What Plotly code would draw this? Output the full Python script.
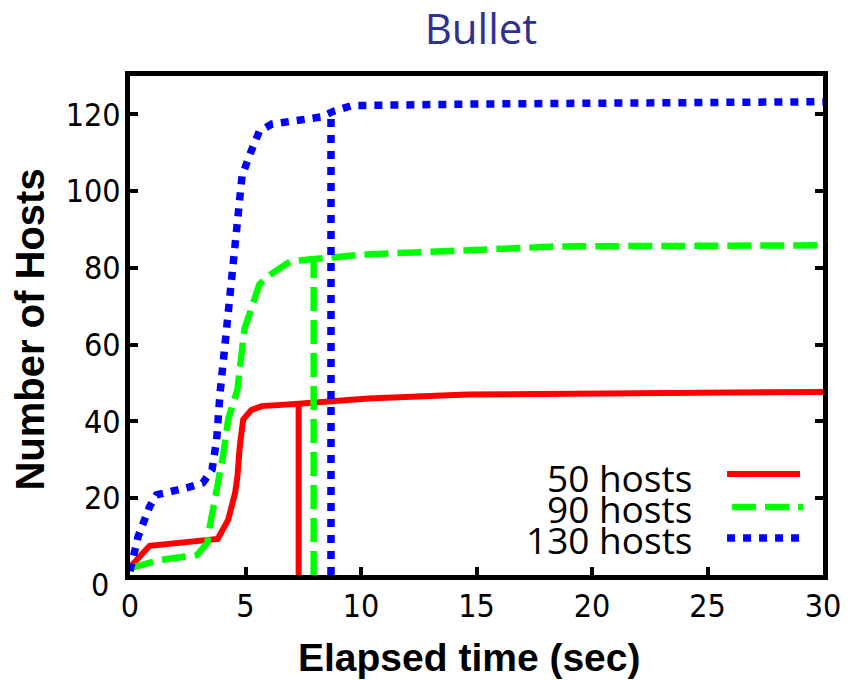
import plotly.graph_objects as go

# Cumulative number of hosts that completed, per elapsed time (sec)
t50 = [0, 0.85, 3.8, 4.25, 4.55, 4.65, 4.75, 4.9, 5.25, 5.7, 7.3, 10.3, 14.6, 20, 30]
h50 = [2, 7.6, 9.4, 14.4, 21.4, 25.6, 33.4, 40.5, 43, 44, 44.6, 46.0, 47.0, 47.2, 47.7]

t90 = [0, 1.3, 2.9, 3.35, 3.45, 3.75, 4.05, 4.25, 4.65, 4.95, 5.6, 5.95, 6.95, 7.75, 10.1, 14.6, 18.5, 30]
h90 = [1.8, 3.9, 5.2, 8.4, 12.5, 22, 31.8, 40.5, 48.3, 64, 75.7, 77.8, 81.7, 82.2, 83.5, 84.6, 85.6, 85.9]

t130 = [0, 0.35, 0.85, 1.15, 2.45, 3.15, 3.55, 3.75, 3.9, 4.45, 4.65, 4.85, 5.15, 5.6, 6.15, 8.25, 8.85, 9.6, 15, 30]
h130 = [1, 10, 17.8, 20.9, 22.7, 24, 27.4, 35.2, 47.5, 80, 92.7, 103.9, 109, 115.6, 117.5, 119.3, 120.9, 122.3, 122.7, 123.3]

# Marker lines: time at which each run is flagged, and the curve level there
mark_t = [7.3, 7.95, 8.7]
mark_h = [44.6, 82.3, 120.0]

series = ["50 hosts", "90 hosts", "130 hosts"]
colors = ["#ff0000", "#00ff00", "#0000ff"]
widths = [6, 6.5, 7.5]
dashes = ["solid", "24px,9px", "8px,8px"]

x_ticks = [0, 5, 10, 15, 20, 25, 30]
y_ticks = [0, 20, 40, 60, 80, 100, 120]

curves = [(t50, h50), (t90, h90), (t130, h130)]

fig = go.Figure()
for i, (tx, hy) in enumerate(curves):
    fig.add_trace(go.Scatter(
        x=tx, y=hy, mode="lines", name=series[i], showlegend=False,
        line=dict(color=colors[i], width=widths[i], dash=dashes[i]),
    ))
    fig.add_trace(go.Scatter(
        x=[mark_t[i], mark_t[i]], y=[0, mark_h[i]], mode="lines", showlegend=False,
        line=dict(color=colors[i], width=widths[i], dash=dashes[i]),
        hoverinfo="skip",
    ))

# Plot-area geometry in pixels, used to place the key and titles
L, T, W, H = 129.5, 76, 693.5, 499
def px(x):
    return (x - L) / W
def py(y):
    return (T + H - y) / H

tick_font = dict(family="DejaVu Sans Condensed, DejaVu Sans, sans-serif", size=32, color="#000000")

# Key: label on the left, line sample on the right
key_rows = [(477, 474, 727, 800), (508, 507, 732, 803), (539, 538, 727, 800)]
annotations = []
shapes = []
for i, (ty, ly, x0, x1) in enumerate(key_rows):
    annotations.append(dict(
        text=series[i], xref="paper", yref="paper", x=px(694), y=py(ty),
        xanchor="right", yanchor="middle", showarrow=False,
        font=dict(family="Open Sans, Liberation Sans, sans-serif", size=37, color="#000000"),
    ))
    shapes.append(dict(
        type="line", xref="paper", yref="paper",
        x0=px(x0), x1=px(x1), y0=py(ly), y1=py(ly),
        line=dict(color=colors[i], width=widths[i], dash=dashes[i]),
    ))

# The y-axis "0" label sits a little below its tick
annotations.append(dict(
    text=str(y_ticks[0]), xref="paper", yref="paper", x=px(110), y=py(585),
    xanchor="right", yanchor="middle", showarrow=False, font=tick_font,
))

annotations.append(dict(
    text="<b>Elapsed time (sec)</b>", xref="paper", yref="paper",
    x=px(469), y=py(657), xanchor="center", yanchor="middle", showarrow=False,
    font=dict(family="Liberation Sans, Arial, sans-serif", size=39, color="#000000"),
))
annotations.append(dict(
    text="<b>Number of Hosts</b>", xref="paper", yref="paper",
    x=px(29), y=py(330), xanchor="center", yanchor="middle", showarrow=False,
    textangle=-90,
    font=dict(family="Liberation Sans, Arial, sans-serif", size=40, color="#000000"),
))

axis_common = dict(
    showgrid=False, zeroline=False, showline=True, linecolor="#000000", linewidth=5,
    ticks="inside", ticklen=8, tickwidth=4, tickcolor="#000000",
    tickfont=tick_font,
)

fig.update_layout(
    width=854, height=680,
    margin=dict(l=129.5, r=854 - 823, t=76, b=680 - 575),
    plot_bgcolor="#ffffff", paper_bgcolor="#ffffff",
    title=dict(
        text="Bullet", x=481 / 854, xref="container", xanchor="center",
        y=1 - 29 / 680, yref="container", yanchor="middle",
        font=dict(family="Open Sans, sans-serif", size=42, color="#2e3192"),
    ),
    xaxis=dict(range=[0, 30], tickvals=x_ticks, ticktext=[str(v) for v in x_ticks],
               mirror=True, ticklabelstandoff=-1, **axis_common),
    yaxis=dict(range=[0, 130], tickvals=y_ticks,
               ticktext=[""] + [str(v) for v in y_ticks[1:]],
               mirror="ticks", ticklabelstandoff=-2, **axis_common),
    annotations=annotations,
    shapes=shapes,
    showlegend=False,
)

fig.write_html("out.html")
